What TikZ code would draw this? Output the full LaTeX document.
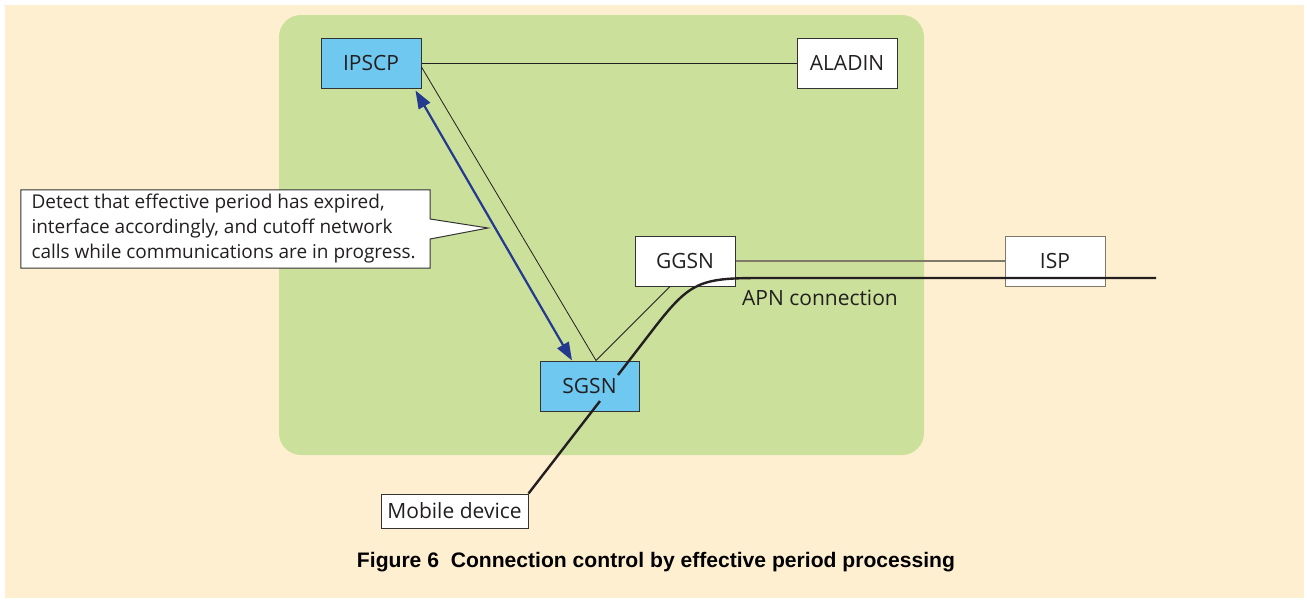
\documentclass[tikz,border=0pt]{standalone}
\usepackage{fontspec}
\setmainfont{Open Sans}
\newfontfamily\capfont{Liberation Sans}
\usetikzlibrary{arrows.meta,calc}
\definecolor{cream}{HTML}{FFEFD1}
\definecolor{panel}{HTML}{CBE09B}
\definecolor{boxblue}{HTML}{6EC8EF}
\definecolor{arrowblue}{HTML}{243A8E}
\definecolor{edge}{HTML}{333333}
\definecolor{grayline}{HTML}{7F7A68}
\definecolor{txt}{HTML}{231F20}
\begin{document}
\begin{tikzpicture}[x=1pt,y=-1pt,
  box/.style={draw=edge, line width=1pt, minimum width=100pt, minimum height=50pt, inner sep=0pt,
    font=\fontsize{21}{25}\selectfont, text=txt},
  bluebox/.style={box, fill=boxblue},
  whitebox/.style={box, fill=white},
  thinline/.style={draw=txt, line width=0.8pt},
  grayconn/.style={draw=grayline, line width=1.3pt},
  apn/.style={draw=txt, line width=2.4pt},
  bluearrow/.style={draw=arrowblue, line width=2.2pt,
    {Triangle[length=18pt,width=13pt]}-{Triangle[length=18pt,width=13pt]}},
  calloutbox/.style={inner sep=0pt, minimum width=409pt, minimum height=78pt},
  callouttext/.style={inner sep=0pt, align=left, font=\fontsize{19}{25}\selectfont, text=txt},
]
\useasboundingbox (0,0) rectangle (1307,600);
\fill[cream] (5,5) rectangle (1304,598);
\fill[panel, rounded corners=22pt] (279,15) rectangle (924,455);

% nodes
\node[bluebox] (ipscp) at (371,63) {IPSCP};
\node[whitebox] (aladin) at (847,63) {ALADIN};
\node[whitebox] (ggsn) at (685,261) {GGSN};
\node[bluebox, minimum width=99pt] (sgsn) at (589.5,386) {SGSN};
\node[whitebox, draw=grayline] (isp) at (1055,261) {ISP};
\node[whitebox, minimum width=147pt, minimum height=34pt] (mobile) at (454.5,511) {Mobile device};
\node[font=\fontsize{21}{25}\selectfont, text=txt] (apnlabel) at (820,298) {APN connection};

% callout
\node[calloutbox] (note) at (225.5,229) {};
\coordinate (tip) at (488,228);
\filldraw[fill=white, draw=edge, line width=1pt]
  (note.north west) -- (note.north east) -- ($(note.east)+(0,-10)$) -- (tip)
  -- ($(note.east)+(0,10)$) -- (note.south east) -- (note.south west) -- cycle;
\node[callouttext, anchor=west] (notetext) at ($(note.west)+(10.5,0)$) {Detect that effective period has expired,\\interface accordingly, and cutoff network\\calls while communications are in progress.};

% connectors
\draw[thinline] (ipscp.east) -- (aladin.west);
\draw[thinline] ($(ipscp.east)+(0,4)$) -- ($(sgsn.north)+(6.5,0)$);
\draw[thinline] ($(ggsn.south)+(-15,0)$) -- ($(sgsn.north)+(6.5,0)$);
\draw[grayconn] (ggsn.east) -- (isp.west);
\draw[bluearrow] ($(ipscp.south east)+(-6,2)$) -- ($(sgsn.north)+(-17.5,0)$);

% APN connection line
\coordinate (apnstart) at (618,375);
\coordinate (apnend) at (1156,278);
\coordinate (sgsnlow) at (600,401);
\draw[apn] (apnstart) -- (655,327) .. controls (690,282) and (700,278) .. (760,278) -- (apnend);
\draw[apn] (mobile.north east) -- (sgsnlow);

% caption
\node[anchor=base, text=black] (caption) at (656,567)
  {\resizebox{598pt}{\height}{\capfont\bfseries\fontsize{21}{25}\selectfont Figure 6\ \ Connection control by effective period processing}};
\end{tikzpicture}
\end{document}
